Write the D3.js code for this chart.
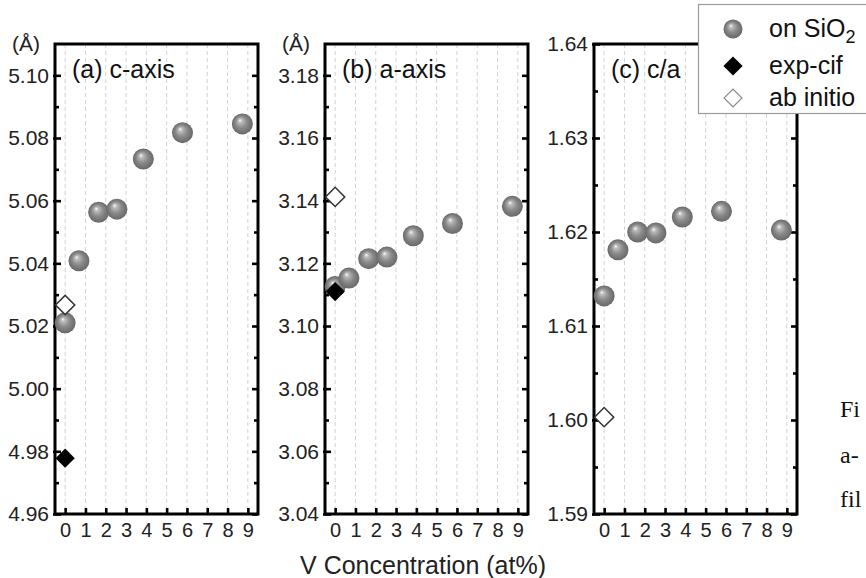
<!DOCTYPE html>
<html>
<head>
<meta charset="utf-8">
<script src="https://cdn.jsdelivr.net/npm/d3@7"></script>
<style>
	body { margin: 0; background: #fff; }
	svg { display: block; font-family: "Liberation Sans", Arial, sans-serif; }
</style>
</head>
<body>
<div id="chart"></div>
<script>
// V concentration (at%) of the sputtered films
const concentration = [0, 0.68, 1.65, 2.55, 3.85, 5.78, 8.73];

// (a) c-axis, (b) a-axis, (c) c/a  -- films on SiO2
const cAxisSiO2 = [5.0210, 5.0408, 5.0563, 5.0573, 5.0733, 5.0817, 5.0845];
const aAxisSiO2 = [3.1126, 3.1153, 3.1215, 3.1220, 3.1288, 3.1327, 3.1382];
const ratioSiO2 = [1.6132, 1.6181, 1.6200, 1.6199, 1.6216, 1.6222, 1.6202];

// reference values at 0 at%
const cAxisExpCif = [4.9778];
const aAxisExpCif = [3.1110];
const cAxisAbInitio = [5.0267];
const aAxisAbInitio = [3.1412];
const ratioAbInitio = [1.6003];
const refConcentration = [0];

// axes
const xTicks = [0, 1, 2, 3, 4, 5, 6, 7, 8, 9];
const cAxisTicks = [4.96, 4.98, 5.00, 5.02, 5.04, 5.06, 5.08, 5.10];
const aAxisTicks = [3.04, 3.06, 3.08, 3.10, 3.12, 3.14, 3.16, 3.18];
const ratioTicks = [1.59, 1.60, 1.61, 1.62, 1.63, 1.64];
const panelTitles = ["(a) c-axis", "(b) a-axis", "(c) c/a"];
const legendLabels = ["on SiO", "exp-cif", "ab initio"];
const xTitle = "V Concentration (at%)";
const sideText = ["Fi", "a-", "fil"];

const width = 866, height = 578;
const plotTop = 44, plotBottom = 514, panelW = 203;

const svg = d3.select("#chart").append("svg")
	.attr("width", width)
	.attr("height", height);

// shaded ball
const grad = svg.append("defs").append("radialGradient")
	.attr("id", "ball")
	.attr("cx", "50%").attr("cy", "50%").attr("r", "50%")
	.attr("fx", "38%").attr("fy", "32%");
grad.append("stop").attr("offset", "0%").attr("stop-color", "#ffffff");
grad.append("stop").attr("offset", "18%").attr("stop-color", "#bdbdbd");
grad.append("stop").attr("offset", "55%").attr("stop-color", "#8a8a8a");
grad.append("stop").attr("offset", "100%").attr("stop-color", "#686868");

const diamond = d3.symbol().type(d3.symbolSquare).size(185);

function drawPanel(left, domain, ticks, minorStep, title, unit, balls, exp, abInitio){
	let right = left + panelW;
	let x = d3.scaleLinear().domain([-0.5, 9.5]).range([left, right]);
	let y = d3.scaleLinear().domain(domain).range([plotBottom, plotTop]);
	let g = svg.append("g");

	// dashed verticals
	g.append("g")
		.selectAll("line")
		.data(xTicks)
		.enter()
		.append("line")
		.attr("x1", (d) => x(d)).attr("x2", (d) => x(d))
		.attr("y1", plotTop).attr("y2", plotBottom)
		.attr("stroke", "#d2d2d2")
		.attr("stroke-width", 1)
		.attr("stroke-dasharray", "4,3");

	let minor = ticks.slice(0, -1).map((d) => +(d + minorStep).toFixed(4));

	// bottom
	let xAxis = g.append("g")
		.attr("transform", "translate(0," + plotBottom + ")")
		.call(d3.axisBottom(x).tickValues(xTicks).tickSize(-6).tickPadding(9));
	xAxis.selectAll("text").attr("font-size", 20).attr("fill", "#222");

	// left
	let yAxis = g.append("g")
		.attr("transform", "translate(" + left + ",0)")
		.call(d3.axisLeft(y).tickValues(ticks).tickSize(-6).tickPadding(6).tickFormat(d3.format(".2f")));
	yAxis.selectAll("text").attr("font-size", 21).attr("fill", "#222");
	yAxis.selectAll("line").attr("x1", -2);

	g.append("g")
		.attr("transform", "translate(" + left + ",0)")
		.call(d3.axisLeft(y).tickValues(minor).tickSize(-4).tickFormat(""));

	// right
	g.append("g")
		.attr("transform", "translate(" + right + ",0)")
		.call(d3.axisRight(y).tickValues(ticks).tickSize(-6).tickFormat(""));
	g.append("g")
		.attr("transform", "translate(" + right + ",0)")
		.call(d3.axisRight(y).tickValues(minor).tickSize(-4).tickFormat(""));

	g.selectAll(".domain").remove();
	g.selectAll(".tick").select(function(){ return this.parentNode; }).attr("font-family", null);
	g.selectAll(".tick line").attr("stroke", "#000").attr("stroke-width", 2.6);

	g.append("rect")
		.attr("x", left).attr("y", plotTop)
		.attr("width", panelW).attr("height", plotBottom - plotTop)
		.attr("fill", "none")
		.attr("stroke", "#000")
		.attr("stroke-width", 3);

	g.append("text")
		.attr("x", left + 17).attr("y", 78)
		.attr("font-size", 25)
		.attr("fill", "#111")
		.text(title);

	if(unit){
		g.append("text")
			.attr("x", left - 43).attr("y", 51)
			.attr("font-size", 21)
			.attr("fill", "#222")
			.text(unit);
	}

	g.append("g")
		.selectAll("circle")
		.data(balls)
		.enter()
		.append("circle")
		.attr("cx", (d, i) => x(concentration[i]))
		.attr("cy", (d) => y(d))
		.attr("r", 10.5)
		.attr("fill", "url(#ball)");

	if(abInitio){
		g.append("g")
			.selectAll("path")
			.data(abInitio)
			.enter()
			.append("path")
			.attr("d", diamond)
			.attr("transform", (d, i) => "translate(" + x(refConcentration[i]) + "," + y(d) + ") rotate(45)")
			.attr("fill", "#fff")
			.attr("stroke", "#333")
			.attr("stroke-width", 1.5);
	}
	if(exp){
		g.append("g")
			.selectAll("path")
			.data(exp)
			.enter()
			.append("path")
			.attr("d", diamond)
			.attr("transform", (d, i) => "translate(" + x(refConcentration[i]) + "," + y(d) + ") rotate(45)")
			.attr("fill", "#000");
	}
}

drawPanel(55, [4.96, 5.11], cAxisTicks, 0.01, panelTitles[0], "(Å)", cAxisSiO2, cAxisExpCif, cAxisAbInitio);
drawPanel(325, [3.04, 3.19], aAxisTicks, 0.01, panelTitles[1], "(Å)", aAxisSiO2, aAxisExpCif, aAxisAbInitio);
drawPanel(594, [1.59, 1.64], ratioTicks, 0.005, panelTitles[2], null, ratioSiO2, null, ratioAbInitio);

// x axis title
svg.append("text")
	.attr("x", 423).attr("y", 574)
	.attr("text-anchor", "middle")
	.attr("font-size", 25)
	.attr("fill", "#222")
	.text(xTitle);

// legend
let legend = svg.append("g");
legend.append("rect")
	.attr("x", 698.5).attr("y", 4.5)
	.attr("width", 200).attr("height", 109)
	.attr("fill", "#fff")
	.attr("stroke", "#9a9a9a")
	.attr("stroke-width", 1.2);

let rowY = [29, 66, 98];
legend.append("circle")
	.attr("cx", 733).attr("cy", rowY[0])
	.attr("r", 9.5)
	.attr("fill", "url(#ball)");
legend.append("path")
	.attr("d", diamond)
	.attr("transform", "translate(733," + rowY[1] + ") rotate(45)")
	.attr("fill", "#000");
legend.append("path")
	.attr("d", d3.symbol().type(d3.symbolSquare).size(160))
	.attr("transform", "translate(733," + rowY[2] + ") rotate(45)")
	.attr("fill", "#fff")
	.attr("stroke", "#888")
	.attr("stroke-width", 1.2);

legend.selectAll(".lbl")
	.data(legendLabels)
	.enter()
	.append("text")
	.attr("class", "lbl")
	.attr("x", 769)
	.attr("y", (d, i) => rowY[i] + 8)
	.attr("font-size", 25)
	.attr("fill", "#111")
	.text((d) => d)
	.filter((d, i) => i === 0)
	.append("tspan")
	.attr("font-size", 18)
	.attr("dy", 6)
	.text("2");

// caption text from the page, cut by the right edge
svg.append("g")
	.selectAll("text")
	.data(sideText)
	.enter()
	.append("text")
	.attr("x", 840)
	.attr("y", (d, i) => [417, 463, 507][i])
	.attr("font-family", "'Liberation Serif', serif")
	.attr("font-size", 24)
	.attr("fill", "#111")
	.text((d) => d);
</script>
</body>
</html>
